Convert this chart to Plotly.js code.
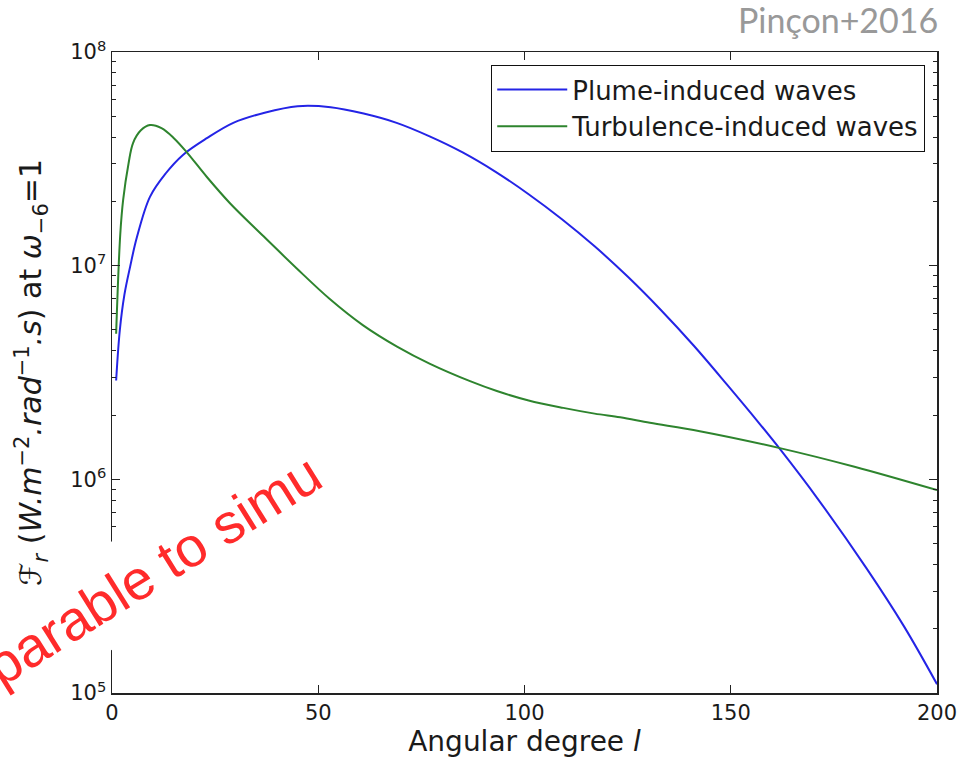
<!DOCTYPE html>
<html>
<head>
<meta charset="utf-8">
<script src="https://cdn.plot.ly/plotly-3.0.1.min.js"></script>
<style>html,body{margin:0;padding:0;background:#fff;}#chart{width:975px;height:764px;}</style>
</head>
<body>
<div id="chart"></div>
<script>
// Angular degree l and flux values
const plumeL = [1, 1.9, 3, 4.4, 6, 9.2, 13, 17.2, 23, 29.4, 37, 45, 53, 61, 69, 77, 85, 93, 101, 109, 117, 125, 133, 141, 149, 157, 162, 171, 183, 192, 200];
const plumeF = [2.9e6, 5.0e6, 7.3e6, 9.9e6, 1.35e7, 2.1e7, 2.7e7, 3.3e7, 3.95e7, 4.66e7, 5.2e7, 5.58e7, 5.52e7, 5.15e7, 4.66e7, 4.03e7, 3.39e7, 2.75e7, 2.16e7, 1.654e7, 1.232e7, 8.89e6, 6.22e6, 4.23e6, 2.79e6, 1.82e6, 1.38e6, 8.15e5, 3.81e5, 2.05e5, 1.1e5];

const turbL = [1, 2, 2.7, 4, 5.1, 7, 9.2, 12, 15, 18.1, 23, 28.6, 36.6, 44.8, 52.8, 60.8, 69.1, 77.1, 86.8, 93.3, 101, 109.4, 117, 123.2, 130.4, 142.5, 161.9, 180, 200];
const turbF = [4.8e6, 1.4e7, 2.03e7, 3.0e7, 3.75e7, 4.3e7, 4.55e7, 4.4e7, 3.95e7, 3.4e7, 2.6e7, 1.96e7, 1.38e7, 9.7e6, 6.98e6, 5.27e6, 4.18e6, 3.47e6, 2.88e6, 2.59e6, 2.34e6, 2.16e6, 2.03e6, 1.95e6, 1.84e6, 1.68e6, 1.4e6, 1.145e6, 8.9e5];

const seriesNames = ["Plume-induced waves", "Turbulence-induced waves"];
const xTicks = [0, 50, 100, 150, 200];
const yTicks = [1e5, 1e6, 1e7, 1e8];
const yTickText = ["10<sup>5</sup>", "10<sup>6</sup>", "10<sup>7</sup>", "10<sup>8</sup>"];

const minorY = [];
[1e5, 1e6, 1e7].forEach(d => { for (let k = 2; k <= 9; k++) minorY.push(k * d); });

const font = "DejaVu Sans, sans-serif";

const traces = [
  {x: plumeL, y: plumeF, name: seriesNames[0], type: "scatter", mode: "lines",
   line: {color: "#2424e6", width: 2, shape: "spline", smoothing: 1}},
  {x: turbL, y: turbF, name: seriesNames[1], type: "scatter", mode: "lines",
   line: {color: "#2e842e", width: 2, shape: "spline", smoothing: 1}}
];

const layout = {
  width: 975, height: 764,
  margin: {l: 112, r: 38, t: 52, b: 71},
  paper_bgcolor: "#fff", plot_bgcolor: "#fff",
  font: {family: font, size: 21, color: "#1a1a1a"},
  showlegend: true,
  legend: {
    x: 0.9855, y: 0.98, xanchor: "right", yanchor: "top",
    bgcolor: "#fff", bordercolor: "#111", borderwidth: 1.2,
    font: {family: font, size: 26, color: "#1a1a1a"},
    itemwidth: 70
  },
  xaxis: {
    range: [0, 200], tickvals: xTicks, ticktext: xTicks.map(String),
    ticks: "inside", ticklen: 8, tickwidth: 1, tickcolor: "#222",
    showline: true, linecolor: "#222", linewidth: 1.5, mirror: "ticks",
    showgrid: false, zeroline: false,
    tickfont: {family: font, size: 21, color: "#1a1a1a"},
    title: {text: "Angular degree <i>l</i>", font: {family: font, size: 28, color: "#1a1a1a"}, standoff: 4}
  },
  yaxis: {
    type: "log", range: [5, 8], tickvals: yTicks, ticktext: yTickText,
    ticks: "inside", ticklen: 8, tickwidth: 1, tickcolor: "#222",
    minor: {tickvals: minorY, ticks: "inside", ticklen: 4, tickcolor: "#222", tickwidth: 1, showgrid: false},
    showline: true, linecolor: "#222", linewidth: 1.5, mirror: "ticks",
    showgrid: false, zeroline: false,
    tickfont: {family: font, size: 21, color: "#1a1a1a"},
    title: {text: "ℱ<sub><i>r</i></sub> (<i>W.m</i><sup>−2</sup><i>.rad</i><sup>−1</sup><i>.s</i>) at <i>ω</i><sub>−6</sub>=1",
            font: {family: font, size: 30, color: "#1a1a1a"}, standoff: 19}
  },
  annotations: [
    {xref: "paper", yref: "paper", x: 1.004, y: 1.05, xanchor: "right", yanchor: "middle",
     text: "Pinçon+2016", showarrow: false, font: {family: "Lato, sans-serif", size: 34, color: "#999999"}},
    {xref: "paper", yref: "paper", x: -0.004, y: 0.149, xanchor: "center", yanchor: "middle",
     text: "comparable to simu", showarrow: false, textangle: -32,
     font: {family: "Liberation Sans, Arial, sans-serif", size: 56, color: "#ff2b2b"},
     bgcolor: "#ffffff", borderpad: 14}
  ]
};

Plotly.newPlot("chart", traces, layout, {displayModeBar: false, staticPlot: true});
</script>
</body>
</html>
